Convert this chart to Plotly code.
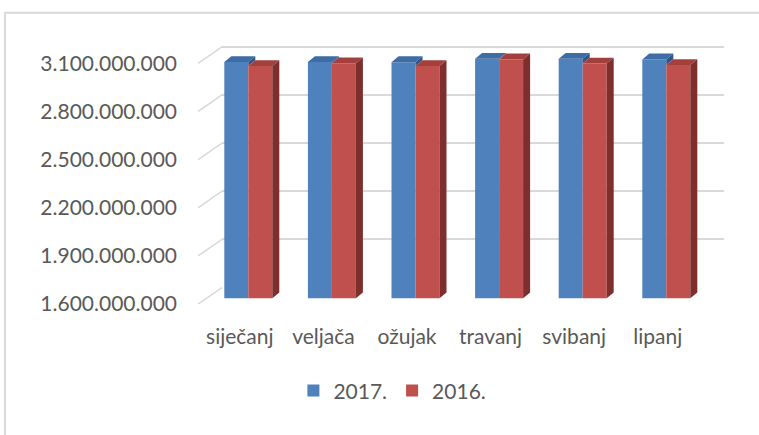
import plotly.graph_objects as go

# ---- data ----
months = ["siječanj", "veljača", "ožujak", "travanj", "svibanj", "lipanj"]
series_2017 = [3072e6, 3072e6, 3071e6, 3092e6, 3092e6, 3088e6]
series_2016 = [3047e6, 3064e6, 3047e6, 3088e6, 3062e6, 3053e6]
y_ticks = [1.6e9, 1.9e9, 2.2e9, 2.5e9, 2.8e9, 3.1e9]

# ---- geometry of the pseudo-3D frame (pixels) ----
W, H = 759, 435
Y_MIN, Y_MAX = 1.6e9, 3.25e9
PX_PER_UNIT_Y = 49.4 / 3e8          # pixels per value unit
PX_PER_CAT = 83.6                    # pixels per category
FRONT_LEFT, FRONT_BOTTOM = 198.0, 312.0
BAR_SHIFT = (8.5, -6.0)              # bar plane relative to front plane
BACK_SHIFT = (24.0, -17.0)           # back wall relative to front plane
BAR_W = 24 / PX_PER_CAT              # bar width in category units
DEPTH_X = 7 / PX_PER_CAT             # bar depth, horizontal component
DEPTH_Y = 6 / PX_PER_UNIT_Y          # bar depth, vertical component

BLUE, BLUE_TOP, BLUE_SIDE = "#4F81BD", "#3E6CA4", "#2F5688"
RED, RED_TOP, RED_SIDE = "#C0504D", "#A3403D", "#7E2E2C"
GRID = "#D9D9D9"
TEXT = "#595959"
FONT = "Lato"


def domains(shift):
    dx, dy = shift
    x0 = FRONT_LEFT + dx
    x1 = x0 + PX_PER_CAT * 6
    yb = FRONT_BOTTOM + dy
    yt = yb - (Y_MAX - Y_MIN) * PX_PER_UNIT_Y
    return [x0 / W, x1 / W], [1 - yb / H, 1 - yt / H]


fig = go.Figure()

# back wall (subplot xy), front plane with labels (x2y2), bar plane (x3y3)
bx, by = domains(BACK_SHIFT)
fx, fy = domains((0, 0))
px_, py_ = domains(BAR_SHIFT)

# empty trace so the back wall subplot and its gridlines are rendered
fig.add_trace(go.Scatter(x=[None], y=[None], mode="lines", showlegend=False,
                         hoverinfo="skip", xaxis="x", yaxis="y"))

# diagonal lines joining front labels to the back wall
diag_dx = BACK_SHIFT[0] / PX_PER_CAT
diag_dy = -BACK_SHIFT[1] / PX_PER_UNIT_Y
for v in y_ticks:
    fig.add_trace(go.Scatter(
        x=[-0.5, -0.5 + diag_dx], y=[v, v + diag_dy], mode="lines",
        line=dict(color=GRID, width=1.5), showlegend=False, hoverinfo="skip",
        xaxis="x2", yaxis="y2"))

# front faces of the columns
fig.add_trace(go.Bar(
    x=list(range(len(months))), y=series_2017, width=BAR_W, offset=-BAR_W,
    marker=dict(color=BLUE, line=dict(width=0)), name="2017.",
    xaxis="x3", yaxis="y3"))
fig.add_trace(go.Bar(
    x=list(range(len(months))), y=series_2016, width=BAR_W, offset=0,
    marker=dict(color=RED, line=dict(width=0)), name="2016.",
    xaxis="x3", yaxis="y3"))


def poly(xs, ys, color):
    fig.add_trace(go.Scatter(
        x=xs + [xs[0]], y=ys + [ys[0]], mode="lines", fill="toself",
        fillcolor=color, line=dict(width=0, color=color),
        showlegend=False, hoverinfo="skip", xaxis="x3", yaxis="y3"))


# top and side faces of the columns
for i, (b, r) in enumerate(zip(series_2017, series_2016)):
    # 2017 column: top face, and the part of its side visible above 2016
    x0, x1 = i - BAR_W, i
    poly([x0, x1, x1 + DEPTH_X, x0 + DEPTH_X], [b, b, b + DEPTH_Y, b + DEPTH_Y], BLUE_TOP)
    if b > r:
        poly([x1, x1, x1 + DEPTH_X, x1 + DEPTH_X], [r, b, b + DEPTH_Y, r + DEPTH_Y], BLUE_SIDE)
    # 2016 column: top and right side faces
    x0, x1 = i, i + BAR_W
    poly([x0, x1, x1 + DEPTH_X, x0 + DEPTH_X], [r, r, r + DEPTH_Y, r + DEPTH_Y], RED_TOP)
    poly([x1, x1 + DEPTH_X, x1 + DEPTH_X, x1], [Y_MIN, Y_MIN + DEPTH_Y, r + DEPTH_Y, r], RED_SIDE)

hidden = dict(visible=True, showgrid=False, zeroline=False, showline=False,
              showticklabels=False, ticks="")

fig.update_layout(
    width=W, height=H,
    margin=dict(l=0, r=0, t=0, b=0),
    paper_bgcolor="white", plot_bgcolor="rgba(0,0,0,0)",
    separators=",.",
    barmode="overlay",
    font=dict(family=FONT, size=21, color=TEXT),
    showlegend=True,
    legend=dict(orientation="h", x=0.517, xanchor="center", y=1 - 401 / H,
                yanchor="middle", font=dict(size=21, color=TEXT),
                itemwidth=30, traceorder="normal"),
    # back wall
    xaxis=dict(domain=bx, range=[-0.5, 5.5], anchor="y", **hidden),
    yaxis=dict(domain=by, range=[Y_MIN, Y_MAX], anchor="x", tickvals=y_ticks,
               showgrid=True, gridcolor=GRID, gridwidth=1.5, zeroline=False,
               showline=False, showticklabels=False, ticks=""),
    # front plane: labels
    xaxis2=dict(domain=fx, range=[-0.5, 5.5], anchor="y2",
                tickvals=list(range(len(months))), ticktext=months,
                showgrid=False, zeroline=False, showline=False, ticks="",
                ticklabelstandoff=18, tickfont=dict(size=21, color=TEXT)),
    yaxis2=dict(domain=fy, range=[Y_MIN, Y_MAX], anchor="x2",
                tickvals=y_ticks, tickformat=",d",
                showgrid=False, zeroline=False, showline=False, ticks="",
                ticklabelstandoff=20, tickfont=dict(size=21, color=TEXT)),
    # bar plane
    xaxis3=dict(domain=px_, range=[-0.5, 5.5], anchor="y3", **hidden),
    yaxis3=dict(domain=py_, range=[Y_MIN, Y_MAX], anchor="x3", **hidden),
    shapes=[dict(type="rect", xref="paper", yref="paper",
                 x0=5 / W, y0=1 - 13 / H, x1=1.05, y1=-0.05,
                 line=dict(color=GRID, width=2), fillcolor="rgba(0,0,0,0)",
                 layer="below")],
)

fig.write_html("out.html")
